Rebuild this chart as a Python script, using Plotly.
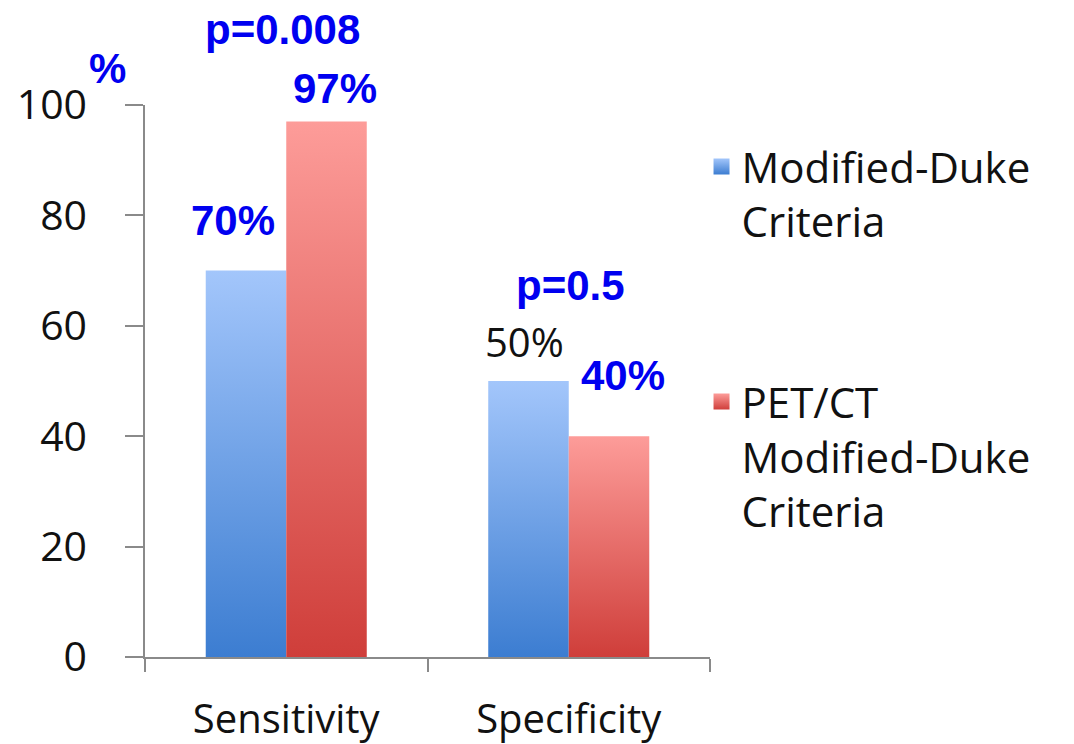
import plotly.graph_objects as go

categories = ["Sensitivity", "Specificity"]
series_names = ["Modified-Duke<br>Criteria", "PET/CT<br>Modified-Duke<br>Criteria"]
duke_values = [70, 50]
petct_values = [97, 40]
y_ticks = [0, 20, 40, 60, 80, 100]

BLUE_TOP, BLUE_BOT = "#a3c6fb", "#3c7dd1"
RED_TOP, RED_BOT = "#fd9c99", "#cf3e3a"
ANN_BLUE = "#0000f0"
AXIS_GRAY = "#8a8a8a"
FONT = "Open Sans"

bar_w = 0.285
fig = go.Figure()

def add_bar(cx, v, top, bot):
    x0, x1 = cx - bar_w / 2, cx + bar_w / 2
    fig.add_trace(go.Scatter(
        x=[x0, x1, x1, x0, x0], y=[0, 0, v, v, 0],
        mode="none", fill="toself", showlegend=False, hoverinfo="skip",
        fillgradient=dict(type="vertical", colorscale=[[0, bot], [1, top]]),
    ))

for i, cat in enumerate(categories):
    add_bar(i - bar_w / 2, duke_values[i], BLUE_TOP, BLUE_BOT)
    add_bar(i + bar_w / 2, petct_values[i], RED_TOP, RED_BOT)

# legend entries
for name, top, bot, grp in [(series_names[0], BLUE_TOP, BLUE_BOT, "a"),
                            (series_names[1], RED_TOP, RED_BOT, "b")]:
    fig.add_trace(go.Scatter(
        x=[None], y=[None], mode="markers", name=name, legendgroup=grp,
        marker=dict(symbol="square", size=30, color=top,
                    gradient=dict(type="vertical", color=bot)),
    ))

anns = [
    dict(x=-bar_w / 2, y=duke_values[0], text="<b>70%</b>", xshift=-13, yshift=50, color=ANN_BLUE),
    dict(x=bar_w / 2, y=petct_values[0], text="<b>97%</b>", xshift=8, yshift=33, color=ANN_BLUE),
    dict(x=0, y=petct_values[0], text="<b>p=0.008</b>", xshift=-4, yshift=92, color=ANN_BLUE),
    dict(x=1 - bar_w / 2, y=duke_values[1], text="50%", xshift=-4, yshift=40, color="#111111", bold=False),
    dict(x=1 + bar_w / 2, y=petct_values[1], text="<b>40%</b>", xshift=14, yshift=61, color=ANN_BLUE),
    dict(x=1, y=duke_values[1], text="<b>p=0.5</b>", xshift=2, yshift=96, color=ANN_BLUE),
]
for a in anns:
    bold = a.pop("bold", True)
    color = a.pop("color")
    fig.add_annotation(**a, xref="x", yref="y", showarrow=False,
                       xanchor="center", yanchor="middle",
                       font=dict(family="Liberation Sans" if bold else FONT,
                                 size=42 if bold else 40, color=color))

fig.add_annotation(text="<b>%</b>", xref="paper", yref="paper", x=-0.0655, y=1.067,
                   showarrow=False, xanchor="center", yanchor="middle",
                   font=dict(family="Liberation Sans", size=42, color=ANN_BLUE))

fig.update_layout(
    width=1074, height=744,
    margin=dict(l=145, r=364, t=105, b=87),
    paper_bgcolor="white", plot_bgcolor="white",
    font=dict(family=FONT, color="#111111"),
    showlegend=True,
    legend=dict(x=0.985, y=0.95, xanchor="left", yanchor="top", valign="top",
                font=dict(family=FONT, size=42, color="#111111"),
                tracegroupgap=123, bgcolor="rgba(0,0,0,0)"),
    xaxis=dict(range=[-0.5, 1.5], tickvals=[0, 1], ticktext=categories,
               ticks="", showgrid=False, zeroline=False, automargin=False,
               showline=True, linecolor=AXIS_GRAY, linewidth=1.5,
               tickfont=dict(family=FONT, size=40, color="#111111"),
               ticklabelstandoff=26,
               minor=dict(tickvals=[-0.5, 0.5, 1.5], ticks="outside",
                          ticklen=13, tickcolor=AXIS_GRAY, tickwidth=1.5)),
    yaxis=dict(range=[0, 100], tickvals=y_ticks, ticks="outside", ticklen=18,
               tickcolor=AXIS_GRAY, tickwidth=1.5, showgrid=False, zeroline=False,
               showline=True, linecolor=AXIS_GRAY, linewidth=1.5, automargin=False,
               tickfont=dict(family=FONT, size=41, color="#111111"),
               ticklabelstandoff=30),
)

fig.write_html("out.html", config={"displayModeBar": False},
               post_script="document.body.style.margin='0';")
